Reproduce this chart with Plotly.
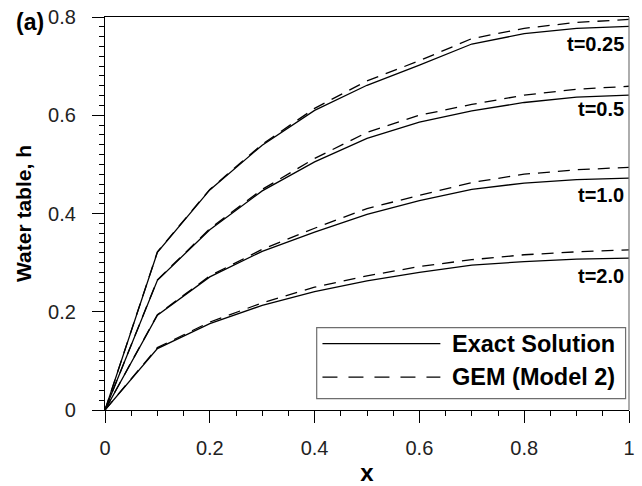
import plotly.graph_objects as go

x = [0.0, 0.1, 0.2, 0.3, 0.4, 0.5, 0.6, 0.7, 0.8, 0.9, 1.0]

exact_t025 = [0, 0.321, 0.448, 0.539, 0.610, 0.661, 0.702, 0.745, 0.766, 0.777, 0.781]
gem_t025   = [0, 0.322, 0.449, 0.541, 0.614, 0.670, 0.711, 0.756, 0.777, 0.789, 0.795]

exact_t05 = [0, 0.264, 0.367, 0.446, 0.505, 0.553, 0.586, 0.609, 0.626, 0.637, 0.641]
gem_t05   = [0, 0.265, 0.369, 0.449, 0.512, 0.565, 0.600, 0.622, 0.641, 0.653, 0.659]

exact_t1 = [0, 0.193, 0.271, 0.323, 0.362, 0.398, 0.426, 0.449, 0.462, 0.469, 0.472]
gem_t1   = [0, 0.194, 0.273, 0.327, 0.370, 0.410, 0.437, 0.463, 0.480, 0.489, 0.494]

exact_t2 = [0, 0.125, 0.176, 0.213, 0.241, 0.263, 0.280, 0.295, 0.302, 0.307, 0.309]
gem_t2   = [0, 0.127, 0.179, 0.218, 0.250, 0.273, 0.292, 0.306, 0.316, 0.322, 0.326]

curve_labels = ["t=0.25", "t=0.5", "t=1.0", "t=2.0"]
label_y = [0.7456, 0.6136, 0.4376, 0.273]

legend_names = ["Exact Solution", "GEM (Model 2)"]

FONT = "Arial, Liberation Sans, sans-serif"

fig = go.Figure()
for ex, gm in [(exact_t025, gem_t025), (exact_t05, gem_t05), (exact_t1, gem_t1), (exact_t2, gem_t2)]:
    fig.add_trace(go.Scatter(x=x, y=ex, mode="lines", line=dict(color="black", width=1.3),
                             showlegend=False, name=legend_names[0]))
    fig.add_trace(go.Scatter(x=x, y=gm, mode="lines", line=dict(color="black", width=1.3, dash="12px,8px"),
                             showlegend=False, name=legend_names[1]))

annotations = []
for lab, yy in zip(curve_labels, label_y):
    annotations.append(dict(x=0.995, y=yy, xref="x", yref="y", text="<b>" + lab + "</b>",
                            showarrow=False, xanchor="right", yanchor="middle",
                            font=dict(family=FONT, size=20, color="black")))

# manual legend
lx0, lx1 = 0.404, 0.9935
ly0, ly1 = 0.029, 0.2097
shapes = [
    dict(type="rect", xref="paper", yref="paper", x0=lx0, x1=lx1, y0=ly0, y1=ly1,
         line=dict(color="#6e6e6e", width=1.2), fillcolor="white", layer="above"),
    dict(type="line", xref="paper", yref="paper", x0=0.415, x1=0.640, y0=0.169, y1=0.169,
         line=dict(color="black", width=1.3), layer="above"),
    dict(type="line", xref="paper", yref="paper", x0=0.415, x1=0.640, y0=0.0834, y1=0.0834,
         line=dict(color="black", width=1.3, dash="15px,11px"), layer="above"),
    dict(type="line", xref="paper", yref="paper", x0=1, x1=1, y0=0, y1=1,
         line=dict(color="#777777", width=1.2), layer="above"),
]
for txt, yy in zip(legend_names, [0.169, 0.0834]):
    annotations.append(dict(x=0.978, y=yy, xref="paper", yref="paper", text="<b>" + txt + "</b>",
                            showarrow=False, xanchor="right", yanchor="middle",
                            font=dict(family=FONT, size=23.5, color="black")))

annotations.append(dict(x=-0.144, y=0.987, xref="paper", yref="paper", text="<b>(a)</b>",
                        showarrow=False, xanchor="center", yanchor="middle",
                        font=dict(family=FONT, size=23, color="black")))

fig.update_layout(
    width=642, height=486,
    margin=dict(l=105, r=13, t=17, b=76),
    plot_bgcolor="white", paper_bgcolor="white",
    font=dict(family=FONT, size=20, color="black"),
    annotations=annotations, shapes=shapes,
    showlegend=False,
)
fig.update_xaxes(
    range=[0, 1], tickvals=[0, 0.2, 0.4, 0.6, 0.8, 1.0], ticktext=["0", "0.2", "0.4", "0.6", "0.8", "1"],
    ticks="outside", ticklen=12, tickwidth=1.2, tickcolor="black",
    minor=dict(dtick=0.05, ticks="outside", ticklen=5, tickwidth=1, tickcolor="black"),
    showline=True, linecolor="black", linewidth=1.2, mirror=True,
    showgrid=False, zeroline=False, ticklabelstandoff=8, automargin=False,
    tickfont=dict(family=FONT, size=20, color="#222"),
    title=dict(text="<b>x</b>", font=dict(family=FONT, size=24, color="black"), standoff=10),
)
fig.update_yaxes(
    range=[0, 0.8], tickvals=[0, 0.2, 0.4, 0.6, 0.8], ticktext=["0", "0.2", "0.4", "0.6", "0.8"],
    ticks="outside", ticklen=12, tickwidth=1.2, tickcolor="black",
    minor=dict(dtick=0.02, ticks="outside", ticklen=5, tickwidth=1, tickcolor="black"),
    showline=True, linecolor="black", linewidth=1.2, mirror=False,
    showgrid=False, zeroline=False, ticklabelstandoff=12, automargin=False,
    tickfont=dict(family=FONT, size=20, color="#222"),
    title=dict(text="<b>Water table, h</b>", font=dict(family=FONT, size=21, color="black"), standoff=10),
)

fig.write_html("out.html")
